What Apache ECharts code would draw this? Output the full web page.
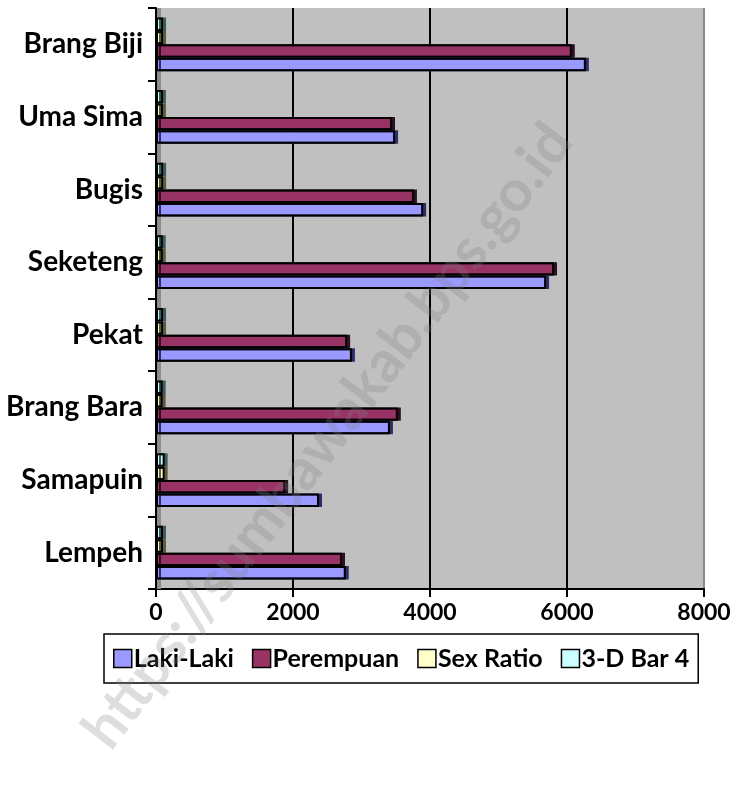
<!DOCTYPE html>
<html>
<head>
<meta charset="utf-8">
<script src="https://cdn.jsdelivr.net/npm/echarts@6/dist/echarts.min.js"></script>
<style>html,body{margin:0;padding:0;background:#fff}#c{width:737px;height:795px}</style>
</head>
<body>
<div id="c"></div>
<script>
const categories = ['Lempeh', 'Samapuin', 'Brang Bara', 'Pekat', 'Seketeng', 'Bugis', 'Uma Sima', 'Brang Biji'];
const lakiLaki = [2770, 2380, 3415, 2860, 5695, 3900, 3490, 6275];
const perempuan = [2715, 1885, 3530, 2790, 5810, 3765, 3445, 6070];
const sexRatio = [102, 126, 97, 103, 98, 104, 101, 103];
const bar4 = [102, 126, 97, 103, 98, 104, 101, 103];
const xTicks = [0, 2000, 4000, 6000, 8000];
const legendNames = ['Laki-Laki', 'Perempuan', 'Sex Ratio', '3-D Bar 4'];

const FONT = 'Lato';
const chart = echarts.init(document.getElementById('c'));
const mk = (name, data, color, side) => ({
  name, type: 'bar', data,
  barGap: '0%', barCategoryGap: '26%',
  itemStyle: { color, borderColor: '#000', borderWidth: 2, shadowColor: side, shadowBlur: 0, shadowOffsetX: 3, shadowOffsetY: 0 }
});
chart.setOption({
  animation: false,
  backgroundColor: '#fff',
  grid: { left: 156, right: 33, top: 8, bottom: 206, backgroundColor: '#C0C0C0', show: true, borderWidth: 0 },
  xAxis: {
    type: 'value', min: xTicks[0], max: xTicks[xTicks.length - 1], interval: 2000,
    axisLine: { show: true, lineStyle: { color: '#000', width: 2 } },
    axisTick: { show: true, length: 8, lineStyle: { color: '#000', width: 2 } },
    axisLabel: { color: '#000', fontFamily: FONT, fontWeight: 'bold', fontSize: 23, margin: 12, formatter: v => String(v) },
    splitLine: { show: true, lineStyle: { color: ['#000', '#000', '#000', '#000', '#888'], width: 2 } }
  },
  yAxis: {
    type: 'category', data: categories,
    axisLine: { show: true, lineStyle: { color: '#000', width: 2 } },
    axisTick: { show: true, length: 8, lineStyle: { color: '#000', width: 2 } },
    axisLabel: { color: '#000', fontFamily: FONT, fontWeight: 'bold', fontSize: 28, margin: 13 },
    splitLine: { show: false }
  },
  legend: {
    data: legendNames,
    left: 104, top: 634,
    borderColor: '#000', borderWidth: 1.5, padding: [12, 9],
    icon: 'rect',
    itemWidth: 18, itemHeight: 18, itemGap: 18,
    textStyle: { color: '#000', fontFamily: FONT, fontWeight: 'bold', fontSize: 25, padding: [0, 0, 0, -3] },
    itemStyle: { borderColor: '#000', borderWidth: 1.5, shadowBlur: 0, shadowOffsetX: 0, shadowColor: 'transparent' }
  },
  series: [
    mk('3-D Bar 4', bar4, '#CCFFFF', '#3d5c5c'),
    mk('Sex Ratio', sexRatio, '#FFFFCC', '#5c5c3d'),
    mk('Perempuan', perempuan, '#993366', '#2e0f1f'),
    mk('Laki-Laki', lakiLaki, '#9999FF', '#2e2e66')
  ],
  graphic: [
    { type: 'rect', z: 1, shape: { x: 157, y: 8, width: 4, height: 581 }, style: { fill: '#8c8c8c' } },
    {
      type: 'text', z: 100,
      x: 328, y: 436, rotation: 0.92,
      style: { text: 'https://sumbawakab.bps.go.id', fill: 'rgba(128,128,128,0.26)', font: 'bold 58px ' + FONT, align: 'center', verticalAlign: 'middle' }
    }
  ]
});
</script>
</body>
</html>
